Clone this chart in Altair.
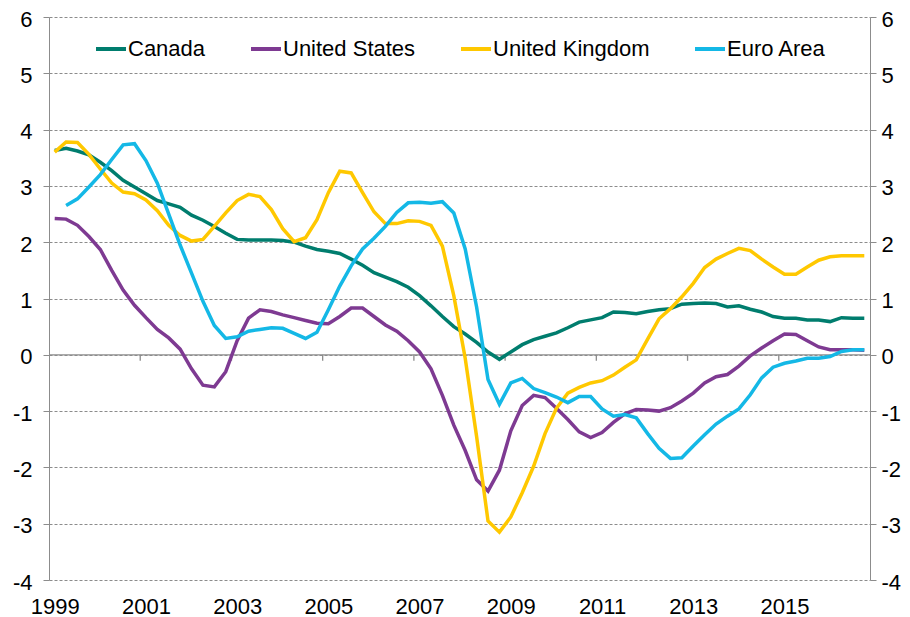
import altair as alt
import pandas as pd

start_year = 1999
end_year = 2017
series_names = ["Canada", "United States", "United Kingdom", "Euro Area"]
series_colors = ["#007D6E", "#7E3A92", "#FFC800", "#14B8E6"]

canada = [3.63, 3.67, 3.62, 3.55, 3.42, 3.27, 3.10, 2.98, 2.86, 2.74, 2.68, 2.62,
          2.48, 2.39, 2.28, 2.16, 2.05, 2.04, 2.04, 2.04, 2.03, 2.00, 1.93, 1.87,
          1.84, 1.80, 1.70, 1.59, 1.46, 1.38, 1.30, 1.20, 1.05, 0.87, 0.68, 0.50,
          0.37, 0.22, 0.05, -0.08, 0.05, 0.18, 0.27, 0.33, 0.39, 0.48, 0.58, 0.62,
          0.66, 0.76, 0.75, 0.73, 0.77, 0.80, 0.82, 0.90, 0.91, 0.92, 0.91, 0.85,
          0.87, 0.81, 0.76, 0.68, 0.65, 0.65, 0.62, 0.62, 0.59, 0.66, 0.65, 0.65]

united_states = [2.42, 2.41, 2.30, 2.10, 1.87, 1.50, 1.15, 0.88, 0.66, 0.45, 0.30, 0.10,
                 -0.25, -0.54, -0.57, -0.30, 0.25, 0.65, 0.80, 0.77, 0.71, 0.66, 0.61, 0.56,
                 0.55, 0.68, 0.83, 0.83, 0.68, 0.53, 0.42, 0.25, 0.05, -0.25, -0.72, -1.25,
                 -1.70, -2.22, -2.42, -2.05, -1.35, -0.90, -0.72, -0.76, -0.95, -1.15, -1.37, -1.47,
                 -1.38, -1.20, -1.05, -0.97, -0.98, -1.00, -0.94, -0.82, -0.68, -0.50, -0.39, -0.35,
                 -0.20, -0.02, 0.12, 0.25, 0.37, 0.36, 0.25, 0.14, 0.09, 0.09, 0.09, 0.08]

united_kingdom = [3.60, 3.78, 3.77, 3.56, 3.30, 3.05, 2.89, 2.86, 2.75, 2.56, 2.30, 2.12,
                  2.02, 2.05, 2.28, 2.52, 2.74, 2.85, 2.81, 2.58, 2.24, 2.01, 2.08, 2.40,
                  2.88, 3.26, 3.23, 2.88, 2.54, 2.33, 2.33, 2.38, 2.37, 2.30, 1.93, 1.05,
                  -0.06, -1.45, -2.95, -3.15, -2.88, -2.45, -1.98, -1.40, -0.95, -0.68, -0.58, -0.50,
                  -0.46, -0.36, -0.22, -0.09, 0.28, 0.64, 0.82, 1.03, 1.27, 1.55, 1.70, 1.80,
                  1.89, 1.85, 1.70, 1.56, 1.43, 1.43, 1.56, 1.68, 1.74, 1.76, 1.76, 1.76]

euro_area = [None, 2.65, 2.77, 2.98, 3.20, 3.47, 3.73, 3.75, 3.45, 3.05, 2.50, 1.95,
             1.45, 0.95, 0.52, 0.29, 0.32, 0.42, 0.45, 0.48, 0.47, 0.38, 0.29, 0.40,
             0.80, 1.22, 1.58, 1.88, 2.07, 2.28, 2.53, 2.70, 2.71, 2.69, 2.72, 2.52,
             1.88, 0.85, -0.44, -0.88, -0.50, -0.42, -0.60, -0.67, -0.75, -0.85, -0.74, -0.74,
             -0.96, -1.09, -1.06, -1.12, -1.40, -1.66, -1.84, -1.83, -1.62, -1.42, -1.23, -1.09,
             -0.96, -0.71, -0.41, -0.22, -0.15, -0.11, -0.06, -0.06, -0.03, 0.06, 0.09, 0.09]

label_years = list(range(1999, 2016, 2))
tick_years = list(range(2001, 2016, 2))
y_ticks = list(range(-4, 7))

FONT = "Liberation Sans"
GRAY = "#8C8C8C"

rows = []
for name, vals in zip(series_names, [canada, united_states, united_kingdom, euro_area]):
    for i, v in enumerate(vals):
        year = start_year + i // 4
        q = i % 4 + 1
        rows.append({"series": name, "t": year + (q - 0.5) / 4, "value": v})
df = pd.DataFrame(rows)

x_scale = alt.Scale(domain=[start_year, end_year], nice=False, zero=False)
y_scale = alt.Scale(domain=[-4, 6], nice=False, zero=False)

lines = alt.Chart(df).mark_line(strokeWidth=3.5).encode(
    x=alt.X("t:Q", scale=x_scale, title=None,
            axis=alt.Axis(values=[y + 0.125 for y in label_years],
                          labelExpr="'' + floor(datum.value)",
                          ticks=False, domain=False, grid=False,
                          labelPadding=16, labelFontSize=22, labelFont=FONT,
                          labelColor="#000000")),
    y=alt.Y("value:Q", scale=y_scale, title=None,
            axis=alt.Axis(values=y_ticks, labelExpr="'' + datum.value", orient="left",
                          grid=True, gridColor=GRAY, gridDash=[3, 2], gridWidth=1,
                          domain=True, domainColor=GRAY, ticks=True, tickColor=GRAY,
                          tickSize=6, labelPadding=11, labelOffset=2,
                          labelFontSize=22, labelFont=FONT, labelColor="#000000")),
    color=alt.Color("series:N",
                    scale=alt.Scale(domain=series_names, range=series_colors),
                    legend=alt.Legend(orient="none", legendX=45, legendY=15,
                                      direction="horizontal", title=None,
                                      symbolType="stroke", symbolSize=900,
                                      symbolStrokeWidth=4, labelFontSize=22,
                                      labelFont=FONT, labelColor="#000000",
                                      labelOffset=0, columnPadding=37, padding=0)),
    order=alt.Order("t:Q"),
)

zero_line = alt.Chart(pd.DataFrame({"v": [0]})).mark_rule(color=GRAY, strokeWidth=1.3).encode(
    y=alt.Y("v:Q", scale=y_scale, title=None,
            axis=alt.Axis(values=y_ticks, labelExpr="'' + datum.value", orient="right",
                          grid=False,
                          domain=True, domainColor=GRAY, ticks=True, tickColor=GRAY,
                          tickSize=6, labelPadding=5, labelOffset=2,
                          labelFontSize=22, labelFont=FONT, labelColor="#000000")),
)

ticks = alt.Chart(pd.DataFrame({"year": tick_years})).mark_rule(
    color=GRAY, strokeWidth=1.3, y2Offset=6).encode(
    x=alt.X("year:Q", scale=x_scale, axis=None),
    y=alt.Y(datum=0, scale=y_scale, axis=None),
    y2=alt.Y2(datum=0),
)

chart = alt.layer(zero_line, ticks, lines).resolve_axis(
    x="independent", y="independent"
).properties(
    width=821, height=563,
    autosize=alt.AutoSizeParams(type="none"),
    padding={"left": 41, "top": 9, "right": 32, "bottom": 37},
).configure_view(stroke=None)

chart.save("out.html", embed_options={"renderer": "svg", "actions": False})
